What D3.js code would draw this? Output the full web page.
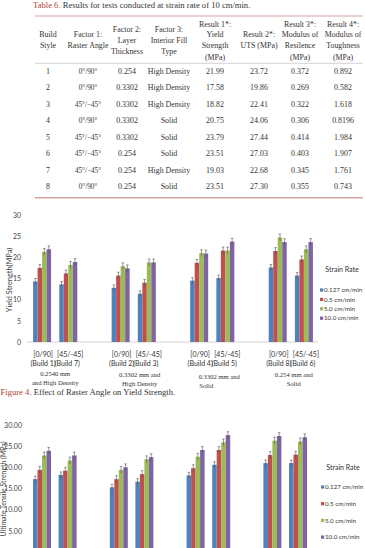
<!DOCTYPE html>
<html><head><meta charset="utf-8">
<script src="https://cdn.jsdelivr.net/npm/d3@7"></script>
<style>
html,body{margin:0;padding:0;background:#fff;overflow:hidden}
svg{display:block}
</style></head>
<body>
<svg id="c" width="365" height="548"></svg>
<script>
// ---------- Table data ----------
const tableCaptionLabel = "Table 6.";
const tableCaptionText = " Results for tests conducted at strain rate of 10 cm/min.";
const tableHeaders = [
  ["Build","Style"],
  ["Factor 1:","Raster Angle"],
  ["Factor 2:","Layer","Thickness"],
  ["Factor 3:","Interior Fill","Type"],
  ["Result 1*:","Yield","Strength","(MPa)"],
  ["Result 2*:","UTS (MPa)"],
  ["Result 3*:","Modulus of","Resilence","(MPa)"],
  ["Result 4*:","Modulus of","Toughness","(MPa)"]
];
const buildStyle = ["1","2","3","4","5","6","7","8"];
const rasterAngle = ["0°/90°","0°/90°","45°/−45°","0°/90°","45°/−45°","45°/−45°","45°/−45°","0°/90°"];
const layerThickness = ["0.254","0.3302","0.3302","0.3302","0.3302","0.254","0.254","0.254"];
const fillType = ["High Density","High Density","High Density","Solid","Solid","Solid","High Density","Solid"];
const yieldStrength = ["21.99","17.58","18.82","20.75","23.79","23.51","19.03","23.51"];
const utsValues = ["23.72","19.86","22.41","24.06","27.44","27.03","22.68","27.30"];
const resilience = ["0.372","0.269","0.322","0.306","0.414","0.403","0.345","0.355"];
const toughness = ["0.892","0.582","1.618","0.8196","1.984","1.907","1.761","0.743"];

// ---------- Chart data ----------
const rasterLabels = ["[0/90]","[45/-45]","[0/90]","[45/-45]","[0/90]","[45/-45]","[0/90]","[45/-45]"];
const buildLabels = ["(Build 1)","(Build 7)","(Build 2)","(Build 3)","(Build 4)","(Build 5)","(Build 8)","(Build 6)"];
const pairNotes = [["0.2540 mm","and High Density"],["0.3302 mm and","High Density"],["0.3302 mm and","Solid"],["0.254 mm and","Solid"]];
const seriesNames = ["0.127 cm/min","0.5 cm/min","5.0 cm/min","10.0 cm/min"];
const seriesColors = ["#4F81BD","#C0504D","#9BBB59","#8064A2"];

const yield0127 = [14.3,13.6,12.8,11.4,14.5,15.1,17.6,15.7];
const yield05   = [17.5,16.2,15.7,14.0,18.7,21.6,21.5,19.5];
const yield50   = [21.3,18.2,17.9,18.8,21.0,21.6,24.7,21.9];
const yield100  = [21.9,18.9,17.4,18.8,20.9,23.7,23.6,23.6];
const yieldErr  = [0.7,0.8,0.8,0.8];
const yieldTicks = [0,5,10,15,20,25,30];

const uts0127 = [17.2,18.2,15.3,16.6,18.1,20.6,21.0,21.0];
const uts05   = [19.4,19.2,17.2,18.4,19.8,24.1,22.9,23.0];
const uts50   = [22.8,21.6,19.4,21.9,22.5,25.9,26.3,26.1];
const uts100  = [23.9,22.8,20.0,22.4,24.1,27.6,27.4,27.1];
const utsErr  = [0.7,0.8,0.8,0.8];
const utsTicks = [5,10,15,20,25,30];

const figCaptionLabel = "Figure 4.";
const figCaptionText = " Effect of Raster Angle on Yield Strength.";
const yieldAxisTitle = "Yield Strength(MPa)";
const utsAxisTitle = "Ultimate Tensile Strength (MPa)";
const legendTitle = "Strain Rate";

// ---------- Drawing ----------
const svg = d3.select("#c");
const SERIF = "'Liberation Serif','DejaVu Serif',serif";
const SANS = "Lato,'Open Sans',sans-serif";
const RED = "#B3402F";
const TXT = "#333";

const cap = svg.append("text").attr("x",33).attr("y",8).attr("font-family",SERIF).attr("font-size",8.6).attr("fill",TXT);
cap.append("tspan").attr("fill",RED).text(tableCaptionLabel);
cap.append("tspan").text(tableCaptionText);

svg.append("line").attr("x1",35).attr("x2",363).attr("y1",16).attr("y2",16).attr("stroke","#c99a9a").attr("stroke-width",0.9);
svg.append("line").attr("x1",35).attr("x2",363).attr("y1",63.3).attr("y2",63.3).attr("stroke","#cfc6c6").attr("stroke-width",0.8);
svg.append("line").attr("x1",35).attr("x2",363).attr("y1",197.7).attr("y2",197.7).attr("stroke","#d4a3a3").attr("stroke-width",1.4);

const colX = [48,88,127,169,215,259,300,343];
const headerYs = [[34,45],[34,45],[29,40,51],[29,40,51],[24,34,45,57],[34,45],[24,34,45,57],[24,34,45,57]];
tableHeaders.forEach((lines,i)=>{
  lines.forEach((t,j)=>{
    svg.append("text").attr("x",colX[i]).attr("y",headerYs[i][j]).attr("dy","0.35em")
      .attr("text-anchor","middle").attr("font-family",SERIF).attr("font-size",7.9).attr("fill",TXT).text(t);
  });
});
const rowY = d3.scaleLinear().domain([0,7]).range([71,186.7]);
const tableCols = [buildStyle,rasterAngle,layerThickness,fillType,yieldStrength,utsValues,resilience,toughness];
tableCols.forEach((col,i)=>{
  col.forEach((t,r)=>{
    svg.append("text").attr("x",colX[i]).attr("y",rowY(r)).attr("dy","0.35em")
      .attr("text-anchor","middle").attr("font-family",SERIF).attr("font-size",i===1?7.2:7.9).attr("fill",TXT).text(t);
  });
});

const slotIndex = [0,1,3,4,6,7,9,10];
function drawChart(o){
  const g = svg.append("g");
  const x = d3.scaleBand().domain(d3.range(11)).range([o.x0,o.x1]).paddingInner(0).paddingOuter(0);
  const y = d3.scaleLinear().domain([0,30]).range([o.yBase,o.yTop]);
  const inner = d3.scaleBand().domain(d3.range(4)).range([0,18]).padding(0);
  const off = (x.bandwidth()-18)/2;

  const ax = d3.axisLeft(y).tickValues(o.ticks).tickSize(0).tickPadding(0).tickFormat(o.fmt);
  const ag = g.append("g").attr("transform",`translate(${o.tickX},0)`).call(ax);
  ag.select(".domain").remove();
  ag.selectAll("text").attr("font-family",SANS).attr("font-size",7).attr("fill","#444");

  g.append("line").attr("x1",o.x0-2).attr("x2",o.x1+1).attr("y1",y(0)).attr("y2",y(0)).attr("stroke","#c8c8c8").attr("stroke-width",0.8);

  g.append("text").attr("transform",`translate(${o.titleX},${o.titleY}) rotate(-90)`)
    .attr("text-anchor","middle").attr("dy","0.35em").attr("font-family",SANS).attr("font-size",o.titleSize).attr("fill","#444").text(o.title);

  o.series.forEach((vals,s)=>{
    const sg = g.append("g");
    vals.forEach((v,k)=>{
      const bx = x(slotIndex[k])+off+inner(s);
      sg.append("rect").attr("x",bx).attr("y",y(v)).attr("width",inner.bandwidth()).attr("height",y(0)-y(v)).attr("fill",seriesColors[s]);
      const cx = bx+inner.bandwidth()/2;
      const e = o.err[s];
      sg.append("line").attr("x1",cx).attr("x2",cx).attr("y1",y(v+e)).attr("y2",y(v-e)).attr("stroke","#555").attr("stroke-width",0.6);
      sg.append("line").attr("x1",cx-1.3).attr("x2",cx+1.3).attr("y1",y(v+e)).attr("y2",y(v+e)).attr("stroke","#555").attr("stroke-width",0.6);
    });
  });

  g.append("text").attr("x",o.legX+22).attr("y",o.legTitleY).attr("dy","0.35em").attr("text-anchor","middle")
    .attr("font-family",SANS).attr("font-size",7).attr("fill","#333").text(legendTitle);
  seriesNames.forEach((n,s)=>{
    const ly = o.legY0 + s*o.legStep;
    g.append("rect").attr("x",o.legX).attr("y",ly-1.6).attr("width",3.2).attr("height",3.2).attr("fill",seriesColors[s]);
    g.append("text").attr("x",o.legX+4).attr("y",ly).attr("dy","0.35em").attr("font-family",SANS).attr("font-size",6.2).attr("fill","#333").text(n);
  });
  return {x,y};
}

const c1 = drawChart({x0:29,x1:317,yBase:342,yTop:215,ticks:yieldTicks,fmt:d3.format("d"),tickX:21,
  title:yieldAxisTitle,titleSize:7.4,titleX:9,titleY:280,series:[yield0127,yield05,yield50,yield100],err:yieldErr,
  legX:320,legTitleY:270,legY0:290,legStep:9.4});

rasterLabels.forEach((t,k)=>{
  const cx = c1.x(slotIndex[k])+c1.x.bandwidth()/2;
  svg.append("text").attr("x",cx+(k%2===0?1:2)).attr("y",355).attr("dy","0.35em").attr("text-anchor","middle")
    .attr("font-family",SANS).attr("font-size",7).attr("fill","#333").text(t);
  svg.append("text").attr("x",cx+(k%2===0?1:-1)).attr("y",364).attr("dy","0.35em").attr("text-anchor","middle")
    .attr("font-family",SANS).attr("font-size",7).attr("fill","#333").text(buildLabels[k]);
});
const noteShift = [0,6,7,3];
const noteY = [374,375,376.5,374.5];
pairNotes.forEach((lines,p)=>{
  const cx = (c1.x(slotIndex[2*p])+c1.x(slotIndex[2*p+1]))/2 + c1.x.bandwidth()/2 + noteShift[p];
  lines.forEach((t,j)=>{
    const left = (p===2 && j===1);
    svg.append("text").attr("x",left?cx-20:cx).attr("y",noteY[p]+j*8.7).attr("dy","0.35em")
      .attr("text-anchor",left?"start":"middle").attr("font-family",SERIF).attr("font-size",6.6).attr("fill","#333").text(t);
  });
});

const fc = svg.append("text").attr("x",0.5).attr("y",395).attr("font-family",SERIF).attr("font-size",8.6).attr("fill",TXT);
fc.append("tspan").attr("fill",RED).text(figCaptionLabel);
fc.append("tspan").text(figCaptionText);

drawChart({x0:29.2,x1:310.8,yBase:552,yTop:425,ticks:utsTicks,fmt:d3.format(".2f"),tickX:22,
  title:utsAxisTitle,titleSize:6.9,titleX:4,titleY:489,series:[uts0127,uts05,uts50,uts100],err:utsErr,
  legX:321,legTitleY:468,legY0:487,legStep:16.7});
</script>
</body></html>
